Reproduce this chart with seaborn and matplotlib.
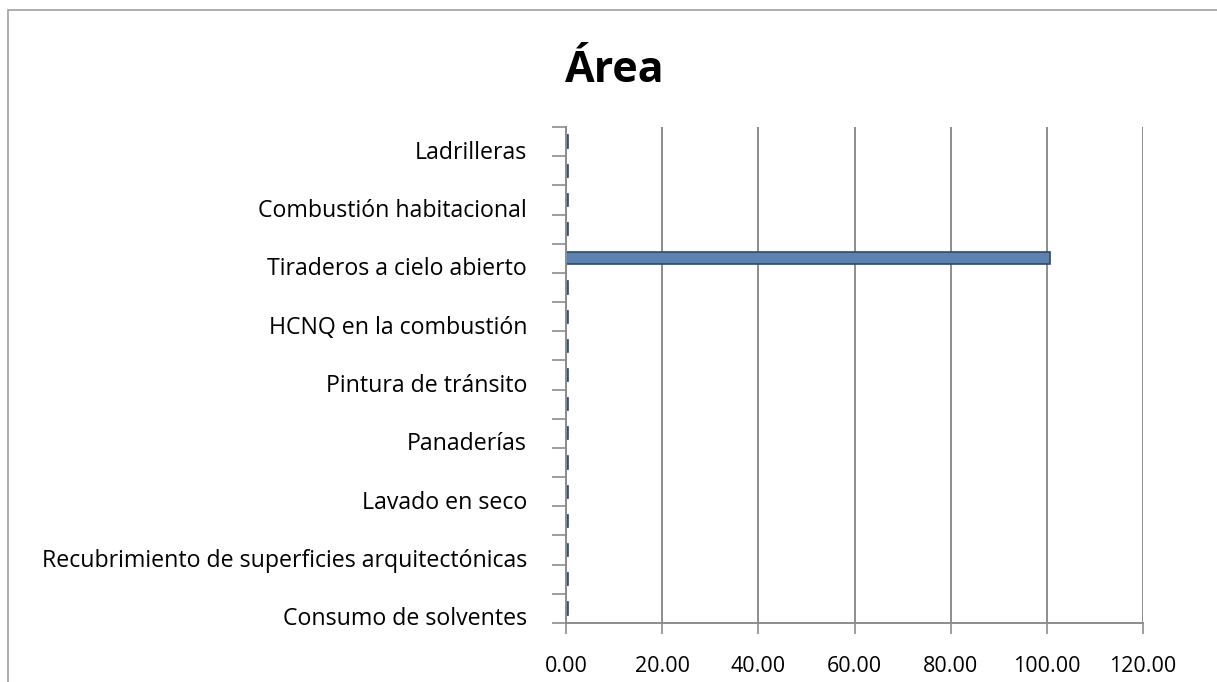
import numpy as np
import pandas as pd
import seaborn as sns
import matplotlib.pyplot as plt
from matplotlib.transforms import ScaledTranslation
from matplotlib.patches import Rectangle

# categories from top to bottom; only every other one carries a label
cat_ids = ["c%02d" % i for i in range(17)]
tick_labels = ["Ladrilleras", "",
               "Combustión habitacional", "",
               "Tiraderos a cielo abierto", "",
               "HCNQ en la combustión", "",
               "Pintura de tránsito", "",
               "Panaderías", "",
               "Lavado en seco", "",
               "Recubrimiento de superficies arquitectónicas", "",
               "Consumo de solventes"]
values = [0.4, 0.4, 0.4, 0.4, 100.6, 0.4, 0.4, 0.4, 0.4,
          0.4, 0.4, 0.4, 0.4, 0.4, 0.4, 0.4, 0.4]
x_ticks = [0, 20, 40, 60, 80, 100, 120]

df = pd.DataFrame({"cat": cat_ids, "valor": values})

sns.set_style("white")
plt.rcParams['font.family'] = ['Open Sans', 'DejaVu Sans']
plt.rcParams['text.color'] = 'black'
plt.rcParams['xtick.labelcolor'] = 'black'
plt.rcParams['ytick.labelcolor'] = 'black'

fig = plt.figure(figsize=(12.17, 6.82), dpi=100)
ax = fig.add_axes([566/1217, 1 - 623/682, (1143 - 566)/1217, (623 - 127)/682])

sns.barplot(data=df, x="valor", y="cat", order=cat_ids, orient="h",
            color="#4F81BD", edgecolor="#2B4A70", linewidth=1.2,
            width=0.42, ax=ax)

ax.set_xlim(0, 120)
ax.set_ylim(16.5, -0.5)
ax.set_xticks(x_ticks)
ax.set_xticklabels(["%.2f" % v for v in x_ticks], fontsize=15.5)
ax.set_yticks(range(len(cat_ids)))
ax.set_yticklabels(tick_labels, fontsize=16.7)
ax.set_yticks(np.arange(-0.5, 17, 1), minor=True)
ax.set_xlabel("")
ax.set_ylabel("")

ax.xaxis.grid(True, color="#8C8C8C", linewidth=1.4)
ax.set_axisbelow(True)
for s in ["top", "right"]:
    ax.spines[s].set_visible(False)
for s in ["left", "bottom"]:
    ax.spines[s].set_color("#8C8C8C")
    ax.spines[s].set_linewidth(1.4)

ax.tick_params(axis="y", which="major", length=0, pad=28)
ax.tick_params(axis="y", which="minor", length=10, width=1.2, color="#8C8C8C", left=True)
ax.tick_params(axis="x", length=8, width=1.2, color="#8C8C8C", bottom=True, pad=16)

shift = ScaledTranslation(0, -8/100, fig.dpi_scale_trans)
for lab in ax.get_yticklabels():
    lab.set_transform(lab.get_transform() + shift)

fig.text(615/1217, 1 - 70/682, "Área", ha="center", va="center",
         fontsize=31, fontweight="bold")

# outer chart border
fig.patches.append(Rectangle((8/1217, -0.01), 1.02, 1 - 10/682 + 0.01,
                             transform=fig.transFigure, fill=False,
                             edgecolor="#A0A0A0", linewidth=1.2))

fig.savefig("out.png", dpi=100)
